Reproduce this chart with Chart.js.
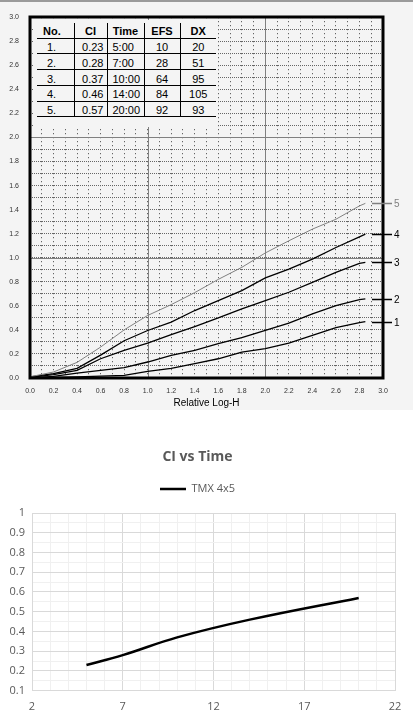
<!DOCTYPE html>
<html lang="en">
<head>
<meta charset="UTF-8">
<title>Film curves and CI vs Time</title>
<script src="https://cdn.jsdelivr.net/npm/chart.js"></script>
<style>
    body { margin: 0; background: #fff; }
    #top {
        position: relative;
        width: 413px;
        height: 410px;
        box-sizing: border-box;
        border-top: 2px solid #9a9a9a;
        background: #f4f4f4;
    }
    #top canvas { position: absolute; left: 0; top: 0; }
    #tbl {
        position: absolute;
        left: 33px;
        top: 18px;
        width: 184px;
        height: 107px;
        background: #f4f4f4;
    }
    #tbl table {
        position: absolute;
        left: 4px;
        top: 2.6px;
        border-collapse: collapse;
        font: 11px "Liberation Sans", Arial, sans-serif;
        color: #000;
    }
    #tbl th, #tbl td {
        height: 15.7px;
        padding: 2px 0 0 0;
        box-sizing: border-box;
        border-bottom: 1px solid #000;
        white-space: nowrap;
        line-height: 12px;
    }
    #tbl th { font-weight: bold; text-align: center; }
    #tbl .c0 { width: 37px; text-align: left; padding-left: 10px; }
    #tbl th.c0 { padding-left: 6px; }
    #tbl .c1 { width: 33px; text-align: right; padding-right: 3px; border-left: 1px solid #000; }
    #tbl .c2 { width: 37px; text-align: left; padding-left: 5px; border-left: 1px solid #000; }
    #tbl .c3 { width: 36px; text-align: center; border-left: 1px solid #000; }
    #tbl .c4 { width: 36px; text-align: center; border-left: 1px solid #000; }
    #tbl th.c1, #tbl th.c2 { text-align: center; padding: 2px 0 0 0; }
    #bottom { position: relative; width: 413px; height: 310px; }
</style>
</head>
<body>
<div id="top">
    <canvas id="hdChart" width="413" height="408"></canvas>
    <div id="tbl">
        <table>
            <thead><tr>
                <th class="c0">No.</th><th class="c1">CI</th><th class="c2">Time</th><th class="c3">EFS</th><th class="c4">DX</th>
            </tr></thead>
            <tbody></tbody>
        </table>
    </div>
</div>
<div id="bottom">
    <canvas id="ciChart" width="413" height="310"></canvas>
</div>
<script>
    // characteristic curves (density vs relative log-H)
    const logH = [0, 0.2, 0.4, 0.6, 0.8, 1.0, 1.2, 1.4, 1.6, 1.8, 2.0, 2.2, 2.4, 2.6, 2.8, 2.85];
    const density1 = [0.00, 0.005, 0.01, 0.015, 0.022, 0.055, 0.08, 0.12, 0.16, 0.215, 0.245, 0.29, 0.354, 0.418, 0.461, 0.469];
    const density2 = [0.00, 0.014, 0.041, 0.064, 0.086, 0.133, 0.188, 0.23, 0.285, 0.335, 0.395, 0.456, 0.533, 0.602, 0.652, 0.658];
    const density3 = [0.005, 0.028, 0.064, 0.16, 0.23, 0.29, 0.36, 0.428, 0.50, 0.575, 0.644, 0.713, 0.795, 0.878, 0.953, 0.961];
    const density4 = [0.01, 0.036, 0.08, 0.19, 0.31, 0.395, 0.464, 0.561, 0.644, 0.727, 0.832, 0.906, 0.989, 1.085, 1.174, 1.196];
    const density5 = [0.01, 0.05, 0.13, 0.257, 0.40, 0.52, 0.61, 0.71, 0.82, 0.92, 1.04, 1.141, 1.238, 1.32, 1.431, 1.452];
    const curveLabels = ['1', '2', '3', '4', '5'];
    const solidGrid = [1, 2];

    // table
    const tableNo = ['1.', '2.', '3.', '4.', '5.'];
    const tableCI = ['0.23', '0.28', '0.37', '0.46', '0.57'];
    const tableTime = ['5:00', '7:00', '10:00', '14:00', '20:00'];
    const tableEFS = ['10', '28', '64', '84', '92'];
    const tableDX = ['20', '51', '95', '105', '93'];

    // CI vs Time
    const devTime = [5, 7, 10, 14, 20];
    const ciValue = [0.23, 0.28, 0.37, 0.46, 0.57];
    const seriesName = 'TMX 4x5';

    const tbody = document.querySelector('#tbl tbody');
    tableNo.forEach((no, i) => {
        const row = tbody.insertRow();
        [no, tableCI[i], tableTime[i], tableEFS[i], tableDX[i]].forEach((txt, c) => {
            const cell = row.insertCell(c);
            cell.className = 'c' + c;
            cell.textContent = txt;
        });
    });

    const toPoints = ys => ys.map((y, i) => ({ x: logH[i], y }));
    const tenths = v => Math.round(v * 10);

    const hdDecor = {
        id: 'hdDecor',
        beforeDatasetsDraw(chart) {
            const { ctx, chartArea: a, scales: { x, y } } = chart;
            ctx.save();
            ctx.strokeStyle = '#808080';
            ctx.lineWidth = 1;
            solidGrid.forEach(v => {
                const px = Math.round(x.getPixelForValue(v)) + 0.5;
                const py = Math.round(y.getPixelForValue(v)) + 0.5;
                ctx.beginPath();
                ctx.moveTo(px, a.top); ctx.lineTo(px, a.bottom);
                ctx.moveTo(a.left, py); ctx.lineTo(a.right, py);
                ctx.stroke();
            });
            ctx.restore();
        },
        afterDraw(chart) {
            const { ctx, chartArea: a, scales: { y } } = chart;
            ctx.save();
            ctx.strokeStyle = '#000';
            ctx.lineWidth = 3;
            ctx.strokeRect(Math.round(a.left), Math.round(a.top), Math.round(a.right - a.left), Math.round(a.bottom - a.top));
            ctx.font = '10px "Liberation Sans", Arial, sans-serif';
            ctx.textBaseline = 'middle';
            chart.data.datasets.forEach(ds => {
                const last = ds.data[ds.data.length - 1];
                const py = Math.round(y.getPixelForValue(last.y)) + 0.5;
                ctx.strokeStyle = ds.borderColor;
                ctx.fillStyle = ds.borderColor;
                ctx.lineWidth = 1.5;
                ctx.beginPath();
                ctx.moveTo(a.right - 11, py);
                ctx.lineTo(a.right + 9, py);
                ctx.stroke();
                ctx.fillText(ds.label, a.right + 11, py + 0.5);
            });
            ctx.restore();
        }
    };

    const curveStyle = (label, data, color, width) => ({
        label, data: toPoints(data), borderColor: color, borderWidth: width,
        pointRadius: 0, tension: 0, fill: false
    });

    new Chart(document.getElementById('hdChart'), {
        type: 'line',
        data: {
            datasets: [
                curveStyle(curveLabels[4], density5, '#808080', 1),
                curveStyle(curveLabels[3], density4, '#000', 1.3),
                curveStyle(curveLabels[2], density3, '#000', 1.3),
                curveStyle(curveLabels[1], density2, '#000', 1.3),
                curveStyle(curveLabels[0], density1, '#000', 1.3)
            ]
        },
        options: {
            responsive: false,
            animation: false,
            layout: { padding: { top: 12, right: 30, bottom: 0, left: 0 } },
            plugins: { legend: { display: false }, tooltip: { enabled: false } },
            scales: {
                x: {
                    type: 'linear', min: 0, max: 3,
                    afterFit: s => { s.height = 32; },
                    grid: { color: '#444', lineWidth: 1, drawTicks: false, tickLength: 0 },
                    border: { display: false, dash: [1, 3] },
                    ticks: {
                        stepSize: 0.1, autoSkip: false, maxRotation: 0, padding: 9,
                        color: '#333', font: { family: '"Liberation Sans", Arial', size: 7 },
                        callback: v => tenths(v) % 2 === 0 ? (tenths(v) / 10).toFixed(1) : ''
                    },
                    title: {
                        display: true, text: 'Relative Log-H', color: '#000',
                        font: { family: '"Liberation Sans", Arial', size: 10 },
                        padding: { top: 0, bottom: 1 }
                    }
                },
                y: {
                    type: 'linear', min: 0, max: 3,
                    afterFit: s => { s.width = 30; },
                    grid: { color: '#666', lineWidth: 1, drawTicks: false, tickLength: 0 },
                    border: { display: false, dash: [1, 1] },
                    ticks: {
                        stepSize: 0.1, autoSkip: false, padding: 11,
                        color: '#333', font: { family: '"Liberation Sans", Arial', size: 7 },
                        callback: v => tenths(v) % 2 === 0 ? (tenths(v) / 10).toFixed(1) : ''
                    }
                }
            }
        },
        plugins: [hdDecor]
    });

    const hundredths = v => Math.round(v * 100);
    const labelColor = '#595959';
    const tickFont = { family: '"Open Sans", "Noto Sans", sans-serif', size: 11 };

    new Chart(document.getElementById('ciChart'), {
        type: 'line',
        data: {
            datasets: [{
                label: seriesName,
                data: devTime.map((t, i) => ({ x: t, y: ciValue[i] })),
                xAxisID: 'x',
                yAxisID: 'y',
                borderColor: '#000',
                backgroundColor: '#000',
                borderWidth: 2.5,
                pointRadius: 0,
                tension: 0.4,
                fill: false
            }]
        },
        options: {
            responsive: false,
            animation: false,
            layout: { padding: { top: 0, right: 18, bottom: 0, left: 0 } },
            plugins: {
                tooltip: { enabled: false },
                title: {
                    display: true, text: 'CI vs Time', color: labelColor,
                    font: { family: '"Open Sans", "Noto Sans", sans-serif', size: 14, weight: 'bold' },
                    padding: { top: 38.3, bottom: 8.4 }
                },
                legend: {
                    display: true, position: 'top',
                    labels: {
                        usePointStyle: true, pointStyle: 'line', pointStyleWidth: 26,
                        padding: 10, color: labelColor, font: tickFont
                    }
                }
            },
            scales: {
                x: {
                    type: 'linear', position: 'bottom', min: 2, max: 22,
                    afterFit: s => { s.height = 29.3; },
                    grid: {
                        drawTicks: false, tickLength: 0,
                        color: c => (Math.round(c.tick.value) - 2) % 5 === 0 ? '#d9d9d9' : '#f0f0f0'
                    },
                    border: { color: '#d9d9d9' },
                    ticks: {
                        stepSize: 1, autoSkip: false, maxRotation: 0, padding: 9.4,
                        color: labelColor, font: tickFont,
                        callback: v => (Math.round(v) - 2) % 5 === 0 ? String(Math.round(v)) : ''
                    }
                },
                y: {
                    type: 'linear', min: 0.1, max: 1,
                    afterFit: s => { s.width = 32; },
                    grid: {
                        drawTicks: false, tickLength: 0,
                        color: c => hundredths(c.tick.value) % 10 === 0 ? '#d9d9d9' : '#f0f0f0'
                    },
                    border: { color: '#d9d9d9' },
                    ticks: {
                        stepSize: 0.05, autoSkip: false, padding: 7,
                        color: labelColor, font: tickFont,
                        callback: v => {
                            const h = hundredths(v);
                            if (h % 10 !== 0) return '';
                            return h === 100 ? '1' : (h / 100).toFixed(1);
                        }
                    }
                },
                gap: {
                    type: 'linear', position: 'top', display: true,
                    afterFit: s => { s.height = 8.5; },
                    grid: { display: false }, border: { display: false }, ticks: { display: false }
                }
            }
        }
    });
</script>
</body>
</html>
